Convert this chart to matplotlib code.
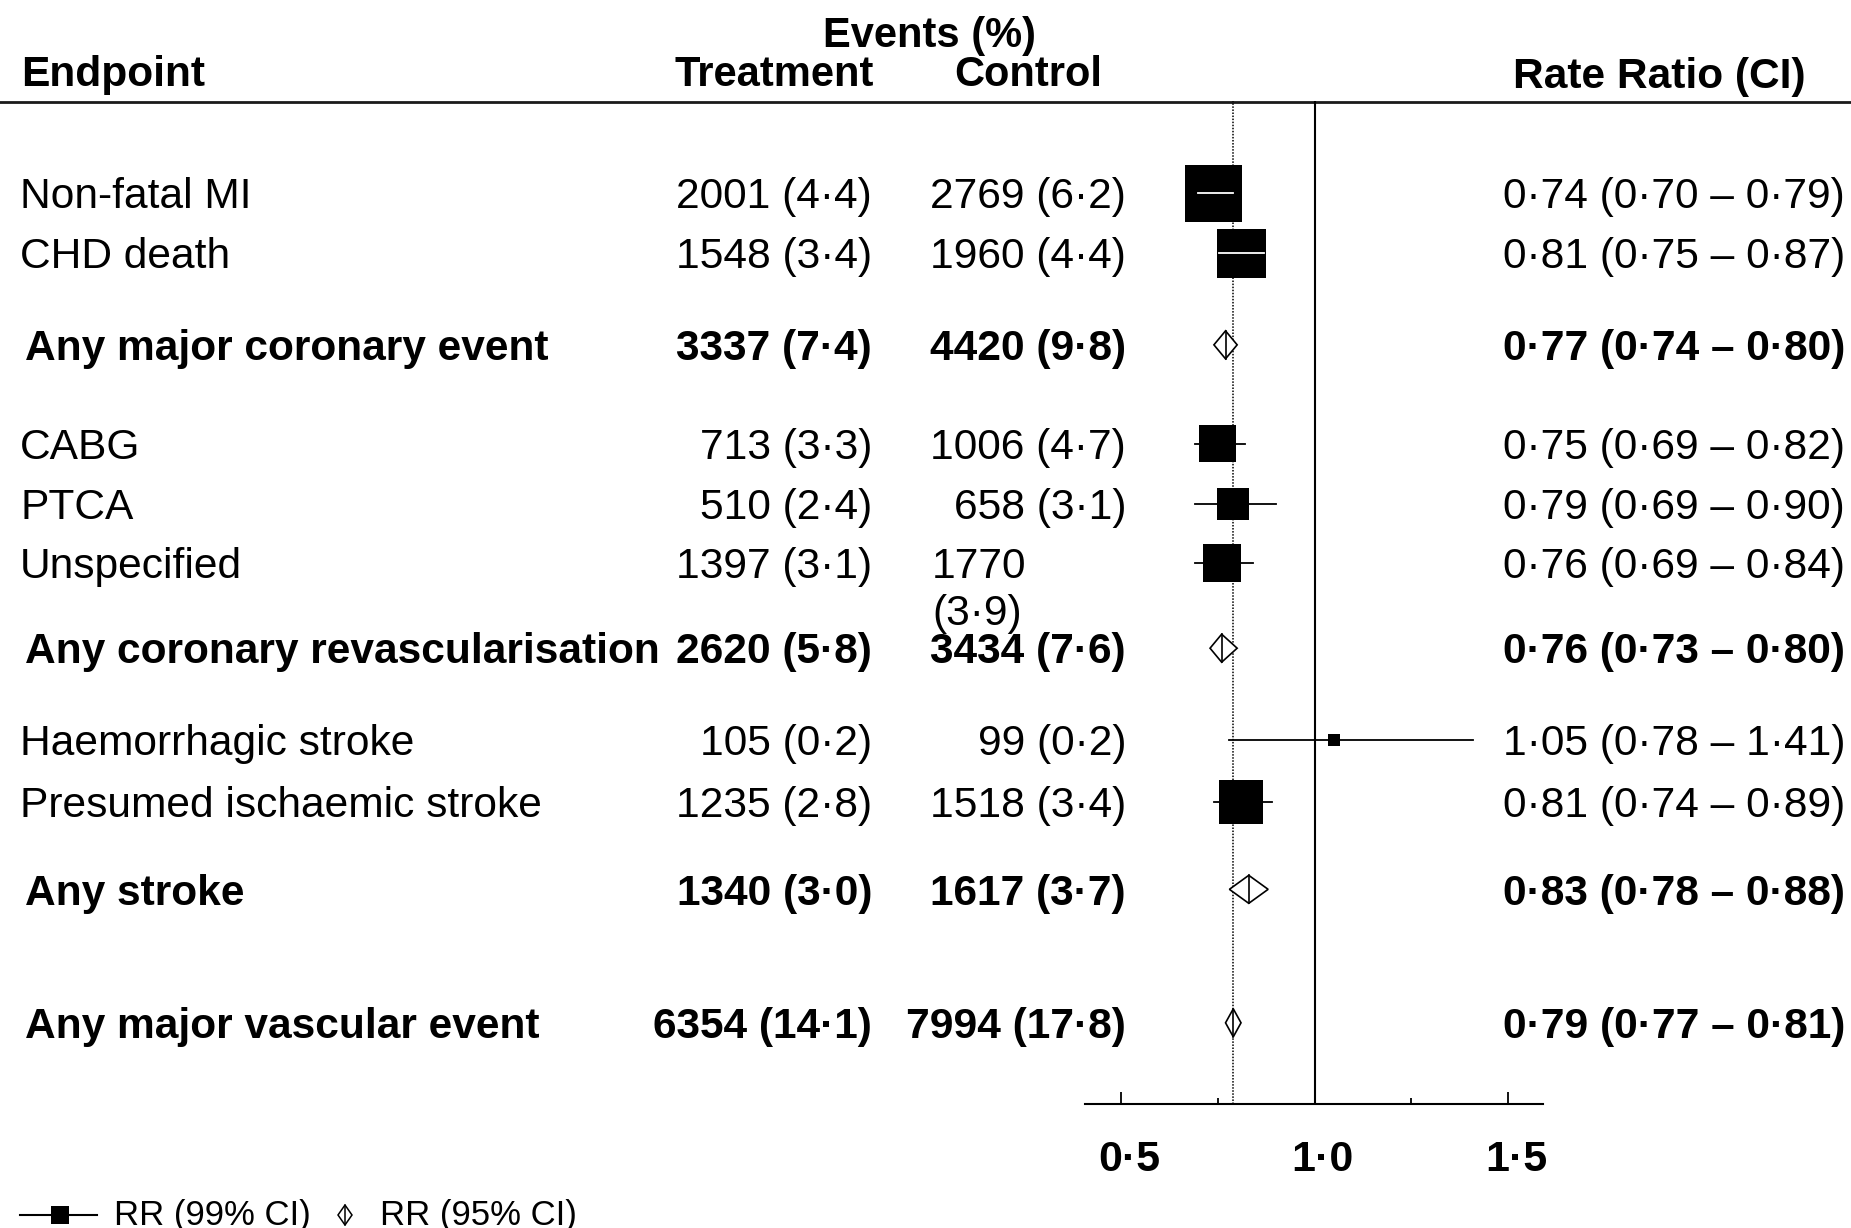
import matplotlib
matplotlib.use('Agg')
import matplotlib.pyplot as plt
from matplotlib.patches import Rectangle, Polygon
from matplotlib.transforms import blended_transform_factory, ScaledTranslation

plt.rcParams['font.family'] = ['Liberation Sans', 'DejaVu Sans']

# ---- data ----
endpoints = ['Non-fatal MI', 'CHD death', 'Any major coronary event',
             'CABG', 'PTCA', 'Unspecified', 'Any coronary revascularisation',
             'Haemorrhagic stroke', 'Presumed ischaemic stroke', 'Any stroke',
             'Any major vascular event']
subtotal = [False, False, True, False, False, False, True, False, False, True, True]
treat_n = [2001, 1548, 3337, 713, 510, 1397, 2620, 105, 1235, 1340, 6354]
treat_pct = [4.4, 3.4, 7.4, 3.3, 2.4, 3.1, 5.8, 0.2, 2.8, 3.0, 14.1]
ctrl_n = [2769, 1960, 4420, 1006, 658, 1770, 3434, 99, 1518, 1617, 7994]
ctrl_pct = [6.2, 4.4, 9.8, 4.7, 3.1, 3.9, 7.6, 0.2, 3.4, 3.7, 17.8]
rr = [0.74, 0.81, 0.77, 0.75, 0.79, 0.76, 0.76, 1.05, 0.81, 0.83, 0.79]
ci_lo = [0.70, 0.75, 0.74, 0.69, 0.69, 0.69, 0.73, 0.78, 0.74, 0.78, 0.77]
ci_hi = [0.79, 0.87, 0.80, 0.82, 0.90, 0.84, 0.80, 1.41, 0.89, 0.88, 0.81]
weight = [57, 49, 0, 37, 32, 38, 0, 12, 44, 0, 0]   # relative box size (statistical weight)
overall_rr = 0.79
ticks = [0.5, 1.0, 1.5]
minor_ticks = [0.75, 1.25]

# ---- layout ----
row_slot = [0, 1, 2.525, 4.167, 5.167, 6.15, 7.57, 9.09, 10.13, 11.58, 13.8]
wrapped_ctrl = {5}   # control cell that wraps onto two lines in the original
FS = 30.6


def dot(v, nd):
    return f'{v:.{nd}f}'.replace('.', '\u00b7')


W, H = 1851, 1228
fig = plt.figure(figsize=(W / 100, H / 100), dpi=100)

lay = fig.add_axes([0, 0, 1, 1])
lay.set_xlim(0, W)
lay.set_ylim(H, 0)
lay.axis('off')

ax = fig.add_axes([1085 / W, 1 - 1104 / H, 458 / W, (1104 - 101) / H])
ax.set_xlim(0.407, 1.590)
ax.set_ylim(15.15, -1.53)
ax.patch.set_alpha(0)
for s in ['top', 'left', 'right']:
    ax.spines[s].set_visible(False)
ax.spines['bottom'].set_linewidth(1.5)
ax.set_yticks([])
ax.set_xticks(ticks)
ax.set_xticklabels([dot(t, 1) for t in ticks], fontsize=31, fontweight='bold')
ax.set_xticks(minor_ticks, minor=True)
ax.tick_params(axis='x', which='major', direction='in', length=8.5, width=1.3, pad=26)
ax.tick_params(axis='x', which='minor', direction='in', length=4.3, width=1.3)
shift = ScaledTranslation(8 / 100, 0, fig.dpi_scale_trans)
for lab in ax.get_xticklabels():
    lab.set_transform(lab.get_transform() + shift)

ax.axvline(1.0, color='black', lw=1.5, zorder=1)
ax.axvline(overall_rr, color='black', lw=1.1, ls=(0, (1, 1)), zorder=1)

# pixel sizes of one data unit
p0 = ax.transData.transform((0, 0))
px_x = ax.transData.transform((1, 0))[0] - p0[0]
px_y = abs(ax.transData.transform((0, 1))[1] - p0[1])

tr = blended_transform_factory(lay.transData, ax.transData)
# baseline offset so that capitals are centred on the row
dy = 0.358 * FS * 100 / 72 / px_y

for i, name in enumerate(endpoints):
    y = row_slot[i] + dy
    bold = 'bold' if subtotal[i] else 'normal'
    x0 = 25 if subtotal[i] else 20
    lay.text(x0, y, name, transform=tr, fontsize=FS, fontweight=bold, va='baseline', ha='left')
    lay.text(872, y, f'{treat_n[i]} ({dot(treat_pct[i], 1)})', transform=tr,
             fontsize=FS, fontweight=bold, va='baseline', ha='right')
    if i in wrapped_ctrl:
        lay.text(932, y, f'{ctrl_n[i]}', transform=tr, fontsize=FS, fontweight=bold,
                 va='baseline', ha='left')
        lay.text(932, y + 0.78, f'({dot(ctrl_pct[i], 1)})', transform=tr, fontsize=FS,
                 fontweight=bold, va='baseline', ha='left')
    else:
        lay.text(1126, y, f'{ctrl_n[i]} ({dot(ctrl_pct[i], 1)})', transform=tr,
                 fontsize=FS, fontweight=bold, va='baseline', ha='right')
    lay.text(1845, y, f'{dot(rr[i], 2)} ({dot(ci_lo[i], 2)} \u2013 {dot(ci_hi[i], 2)})',
             transform=tr, fontsize=FS, fontweight=bold, va='baseline', ha='right')

    y = row_slot[i]
    if subtotal[i]:
        hd = 14 / px_y
        ax.add_patch(Polygon([(ci_lo[i], y), (rr[i], y - hd), (ci_hi[i], y), (rr[i], y + hd)],
                             closed=True, facecolor='white', edgecolor='black', lw=1.2, zorder=3))
        ax.plot([rr[i], rr[i]], [y - hd, y + hd], color='black', lw=1.2, zorder=4)
    else:
        w = weight[i] / px_x
        h = weight[i] / px_y
        ax.plot([ci_lo[i], ci_hi[i]], [y, y], color='black', lw=1.3, zorder=2)
        ax.add_patch(Rectangle((rr[i] - w / 2, y - h / 2), w, h, facecolor='black',
                               edgecolor='none', zorder=3))
        tol = 2 / px_x
        if ci_lo[i] >= rr[i] - w / 2 - tol and ci_hi[i] <= rr[i] + w / 2 + tol:
            a = max(ci_lo[i], rr[i] - w / 2 + 2 / px_x)
            b = min(ci_hi[i], rr[i] + w / 2 - 2 / px_x)
            ax.plot([a, b], [y, y], color='white', lw=1.3, zorder=4)

# headers
lay.text(21, 75, 'Endpoint', fontsize=FS, fontweight='bold', va='center', ha='left')
lay.text(929, 36, 'Events (%)', fontsize=30, fontweight='bold', va='center', ha='center')
lay.text(774, 75, 'Treatment', fontsize=30, fontweight='bold', va='center', ha='center')
lay.text(1028, 75, 'Control', fontsize=30, fontweight='bold', va='center', ha='center')
lay.text(1513, 77, 'Rate Ratio (CI)', fontsize=FS, fontweight='bold', va='center', ha='left')
lay.plot([0, W], [102, 102], color='#1a1a1a', lw=2.0)

# legend
ly = 1215
lay.plot([20, 97], [ly, ly], color='black', lw=1.5)
lay.add_patch(Rectangle((51, ly - 9), 18, 18, facecolor='black', edgecolor='none'))
lay.text(114, ly, 'RR (99% CI)', fontsize=25, va='center', ha='left')
lay.add_patch(Polygon([(338, ly), (345, ly - 10), (352, ly), (345, ly + 10)], closed=True,
                      facecolor='white', edgecolor='black', lw=1.1))
lay.plot([345, 345], [ly - 10, ly + 10], color='black', lw=1.1)
lay.text(380, ly, 'RR (95% CI)', fontsize=25, va='center', ha='left')

fig.savefig('out.png', dpi=100)
